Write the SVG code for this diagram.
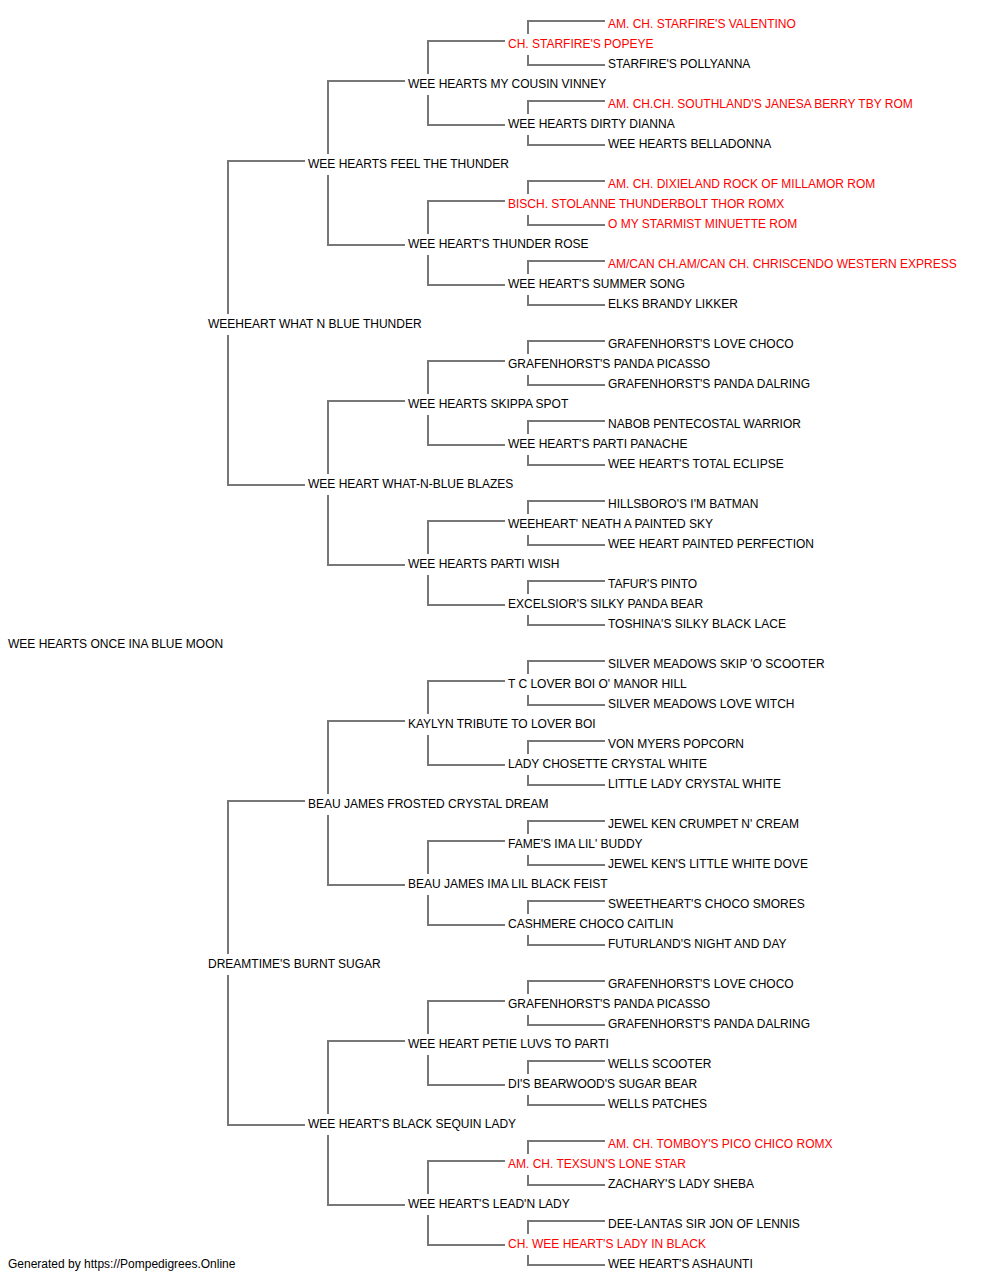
<svg xmlns="http://www.w3.org/2000/svg" width="1000" height="1280" viewBox="0 0 1000 1280">
<style>
text{font-family:"Liberation Sans",Arial,sans-serif;font-size:12px;fill:#000}
text.ch{fill:#ff0000}
#connectors path{fill:none;stroke:#777;stroke-width:2}
</style>
<rect width="1000" height="1280" fill="#fff"/>
<g id="connectors">
<path d="M228,314V161H305M228,335V485H305"/>
<path d="M228,954V801H305M228,975V1125H305"/>
<path d="M328,154V81H405M328,175V245H405"/>
<path d="M328,474V401H405M328,495V565H405"/>
<path d="M328,794V721H405M328,815V885H405"/>
<path d="M328,1114V1041H405M328,1135V1205H405"/>
<path d="M428,74V41H505M428,95V125H505"/>
<path d="M428,234V201H505M428,255V285H505"/>
<path d="M428,394V361H505M428,415V445H505"/>
<path d="M428,554V521H505M428,575V605H505"/>
<path d="M428,714V681H505M428,735V765H505"/>
<path d="M428,874V841H505M428,895V925H505"/>
<path d="M428,1034V1001H505M428,1055V1085H505"/>
<path d="M428,1194V1161H505M428,1215V1245H505"/>
<path d="M528,34V21H605M528,55V65H605"/>
<path d="M528,114V101H605M528,135V145H605"/>
<path d="M528,194V181H605M528,215V225H605"/>
<path d="M528,274V261H605M528,295V305H605"/>
<path d="M528,354V341H605M528,375V385H605"/>
<path d="M528,434V421H605M528,455V465H605"/>
<path d="M528,514V501H605M528,535V545H605"/>
<path d="M528,594V581H605M528,615V625H605"/>
<path d="M528,674V661H605M528,695V705H605"/>
<path d="M528,754V741H605M528,775V785H605"/>
<path d="M528,834V821H605M528,855V865H605"/>
<path d="M528,914V901H605M528,935V945H605"/>
<path d="M528,994V981H605M528,1015V1025H605"/>
<path d="M528,1074V1061H605M528,1095V1105H605"/>
<path d="M528,1154V1141H605M528,1175V1185H605"/>
<path d="M528,1234V1221H605M528,1255V1265H605"/>
</g>
<g id="n00"><text class="ch" x="608" y="28">AM. CH. STARFIRE'S VALENTINO</text></g>
<g id="n01"><text class="ch" x="508" y="48">CH. STARFIRE'S POPEYE</text></g>
<g id="n02"><text x="608" y="68">STARFIRE'S POLLYANNA</text></g>
<g id="n03"><text x="408" y="88">WEE HEARTS MY COUSIN VINNEY</text></g>
<g id="n04"><text class="ch" x="608" y="108">AM. CH.CH. SOUTHLAND'S JANESA BERRY TBY ROM</text></g>
<g id="n05"><text x="508" y="128">WEE HEARTS DIRTY DIANNA</text></g>
<g id="n06"><text x="608" y="148">WEE HEARTS BELLADONNA</text></g>
<g id="n07"><text x="308" y="168">WEE HEARTS FEEL THE THUNDER</text></g>
<g id="n08"><text class="ch" x="608" y="188">AM. CH. DIXIELAND ROCK OF MILLAMOR ROM</text></g>
<g id="n09"><text class="ch" x="508" y="208">BISCH. STOLANNE THUNDERBOLT THOR ROMX</text></g>
<g id="n10"><text class="ch" x="608" y="228">O MY STARMIST MINUETTE ROM</text></g>
<g id="n11"><text x="408" y="248">WEE HEART'S THUNDER ROSE</text></g>
<g id="n12"><text class="ch" x="608" y="268">AM/CAN CH.AM/CAN CH. CHRISCENDO WESTERN EXPRESS</text></g>
<g id="n13"><text x="508" y="288">WEE HEART'S SUMMER SONG</text></g>
<g id="n14"><text x="608" y="308">ELKS BRANDY LIKKER</text></g>
<g id="n15"><text x="208" y="328">WEEHEART WHAT N BLUE THUNDER</text></g>
<g id="n16"><text x="608" y="348">GRAFENHORST'S LOVE CHOCO</text></g>
<g id="n17"><text x="508" y="368">GRAFENHORST'S PANDA PICASSO</text></g>
<g id="n18"><text x="608" y="388">GRAFENHORST'S PANDA DALRING</text></g>
<g id="n19"><text x="408" y="408">WEE HEARTS SKIPPA SPOT</text></g>
<g id="n20"><text x="608" y="428">NABOB PENTECOSTAL WARRIOR</text></g>
<g id="n21"><text x="508" y="448">WEE HEART'S PARTI PANACHE</text></g>
<g id="n22"><text x="608" y="468">WEE HEART'S TOTAL ECLIPSE</text></g>
<g id="n23"><text x="308" y="488">WEE HEART WHAT-N-BLUE BLAZES</text></g>
<g id="n24"><text x="608" y="508">HILLSBORO'S I'M BATMAN</text></g>
<g id="n25"><text x="508" y="528">WEEHEART' NEATH A PAINTED SKY</text></g>
<g id="n26"><text x="608" y="548">WEE HEART PAINTED PERFECTION</text></g>
<g id="n27"><text x="408" y="568">WEE HEARTS PARTI WISH</text></g>
<g id="n28"><text x="608" y="588">TAFUR'S PINTO</text></g>
<g id="n29"><text x="508" y="608">EXCELSIOR'S SILKY PANDA BEAR</text></g>
<g id="n30"><text x="608" y="628">TOSHINA'S SILKY BLACK LACE</text></g>
<g id="n31"><text x="8" y="648">WEE HEARTS ONCE INA BLUE MOON</text></g>
<g id="n32"><text x="608" y="668">SILVER MEADOWS SKIP 'O SCOOTER</text></g>
<g id="n33"><text x="508" y="688">T C LOVER BOI O' MANOR HILL</text></g>
<g id="n34"><text x="608" y="708">SILVER MEADOWS LOVE WITCH</text></g>
<g id="n35"><text x="408" y="728">KAYLYN TRIBUTE TO LOVER BOI</text></g>
<g id="n36"><text x="608" y="748">VON MYERS POPCORN</text></g>
<g id="n37"><text x="508" y="768">LADY CHOSETTE CRYSTAL WHITE</text></g>
<g id="n38"><text x="608" y="788">LITTLE LADY CRYSTAL WHITE</text></g>
<g id="n39"><text x="308" y="808">BEAU JAMES FROSTED CRYSTAL DREAM</text></g>
<g id="n40"><text x="608" y="828">JEWEL KEN CRUMPET N' CREAM</text></g>
<g id="n41"><text x="508" y="848">FAME'S IMA LIL' BUDDY</text></g>
<g id="n42"><text x="608" y="868">JEWEL KEN'S LITTLE WHITE DOVE</text></g>
<g id="n43"><text x="408" y="888">BEAU JAMES IMA LIL BLACK FEIST</text></g>
<g id="n44"><text x="608" y="908">SWEETHEART'S CHOCO SMORES</text></g>
<g id="n45"><text x="508" y="928">CASHMERE CHOCO CAITLIN</text></g>
<g id="n46"><text x="608" y="948">FUTURLAND'S NIGHT AND DAY</text></g>
<g id="n47"><text x="208" y="968">DREAMTIME'S BURNT SUGAR</text></g>
<g id="n48"><text x="608" y="988">GRAFENHORST'S LOVE CHOCO</text></g>
<g id="n49"><text x="508" y="1008">GRAFENHORST'S PANDA PICASSO</text></g>
<g id="n50"><text x="608" y="1028">GRAFENHORST'S PANDA DALRING</text></g>
<g id="n51"><text x="408" y="1048">WEE HEART PETIE LUVS TO PARTI</text></g>
<g id="n52"><text x="608" y="1068">WELLS SCOOTER</text></g>
<g id="n53"><text x="508" y="1088">DI'S BEARWOOD'S SUGAR BEAR</text></g>
<g id="n54"><text x="608" y="1108">WELLS PATCHES</text></g>
<g id="n55"><text x="308" y="1128">WEE HEART'S BLACK SEQUIN LADY</text></g>
<g id="n56"><text class="ch" x="608" y="1148">AM. CH. TOMBOY'S PICO CHICO ROMX</text></g>
<g id="n57"><text class="ch" x="508" y="1168">AM. CH. TEXSUN'S LONE STAR</text></g>
<g id="n58"><text x="608" y="1188">ZACHARY'S LADY SHEBA</text></g>
<g id="n59"><text x="408" y="1208">WEE HEART'S LEAD'N LADY</text></g>
<g id="n60"><text x="608" y="1228">DEE-LANTAS SIR JON OF LENNIS</text></g>
<g id="n61"><text class="ch" x="508" y="1248">CH. WEE HEART'S LADY IN BLACK</text></g>
<g id="n62"><text x="608" y="1268">WEE HEART'S ASHAUNTI</text></g>
<g id="footer"><text x="8" y="1268">Generated by https://Pompedigrees.Online</text></g>
</svg>
